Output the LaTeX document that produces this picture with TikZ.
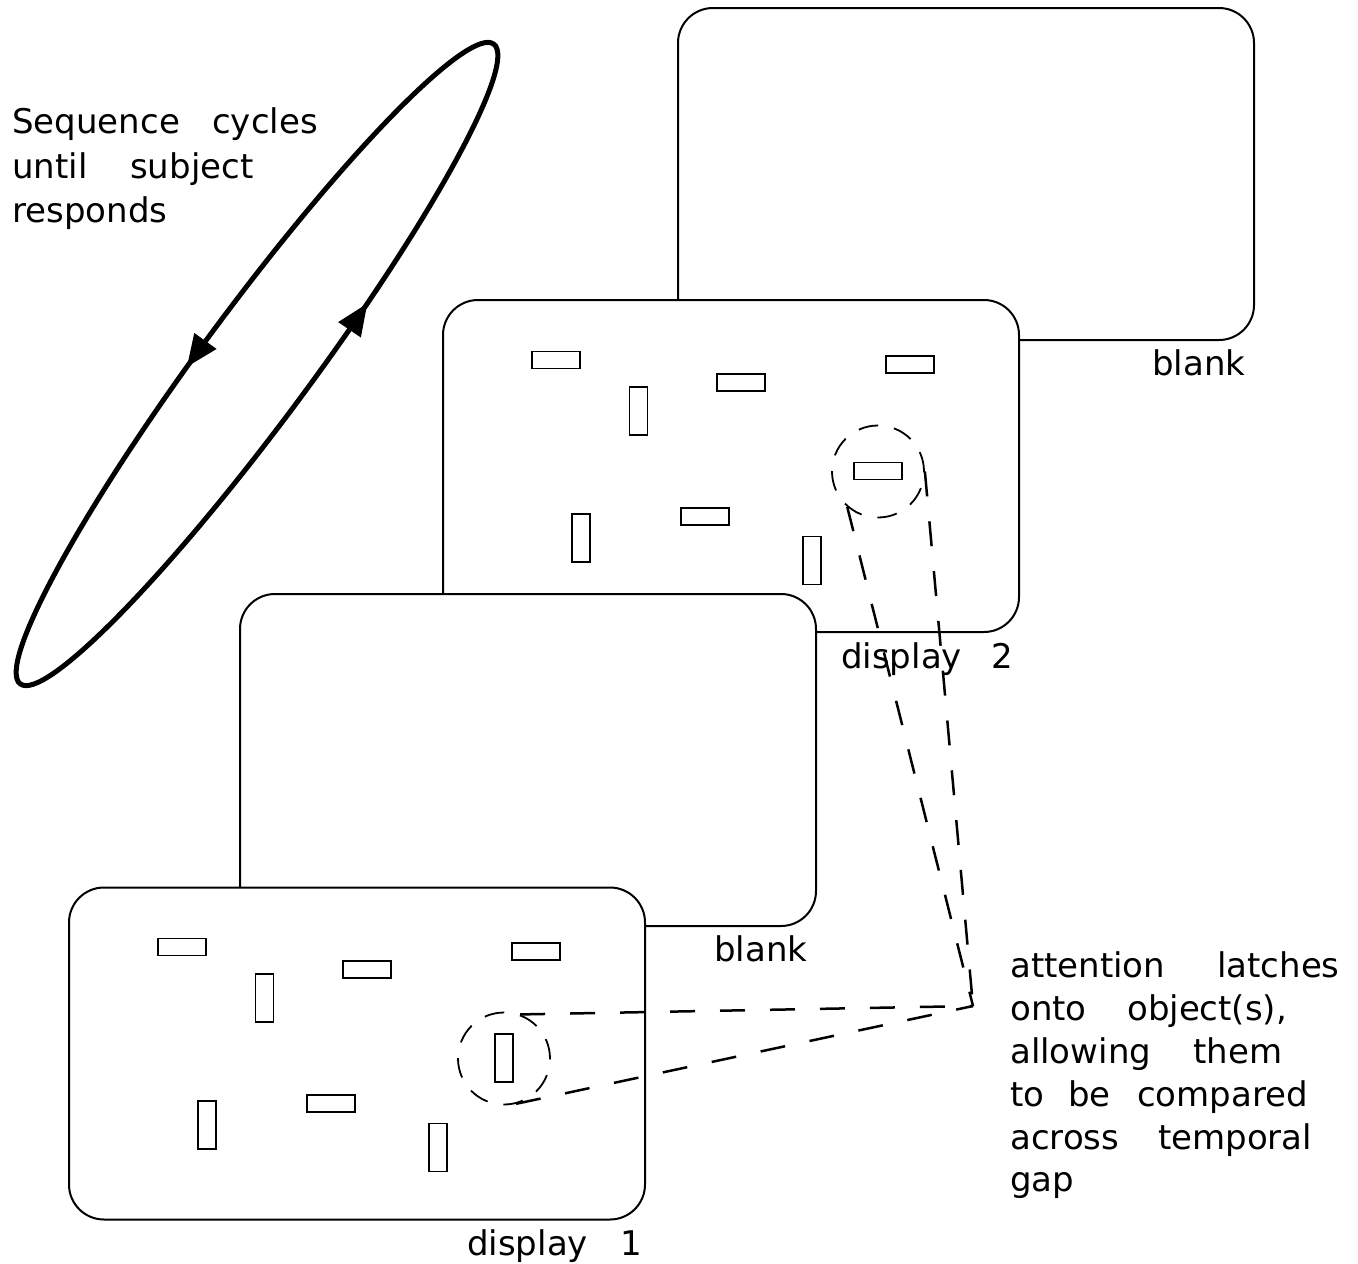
\documentclass[tikz,border=0pt]{standalone}
\usepackage{fontspec}
\newfontfamily\dejavu{DejaVu Sans}
\usetikzlibrary{arrows.meta,decorations.markings}

\tikzset{
  panel/.style={draw, line width=2pt, fill=white, rounded corners=35pt,
    minimum width=576pt, minimum height=332pt, inner sep=0pt},
  hbar/.style={draw, line width=1.8pt, minimum width=48pt, minimum height=17pt, inner sep=0pt},
  vbar/.style={draw, line width=1.8pt, minimum width=18pt, minimum height=48pt, inner sep=0pt},
  focus/.style={circle, draw, line width=1.8pt, dash pattern=on 20pt off 16pt,
    minimum size=92pt, inner sep=0pt},
  link/.style={line width=2.5pt, dash pattern=on 25pt off 25pt},
  words/.style={font=\dejavu\fontsize{34pt}{43pt}\selectfont, anchor=base west, inner sep=0pt},
  cyclepath/.style={line width=5pt, postaction={decorate},
    decoration={markings,
      mark=at position 0.277 with {\arrow{Triangle[length=32pt,width=26pt]}},
      mark=at position 0.82 with {\arrow{Triangle[length=32pt,width=26pt]}}}},
  % the scattered bars of one display, placed from the panel's top-left corner;
  % the argument is the style of the bar inside the attention ring
  bars/.pic={
    \node[hbar] (-a) at (113,60) {};
    \node[hbar] (-b) at (298,82.5) {};
    \node[hbar] (-c) at (467,64.5) {};
    \node[vbar] (-d) at (195.5,111) {};
    \node[hbar] (-e) at (262,216.5) {};
    \node[vbar] (-f) at (138,238) {};
    \node[vbar] (-g) at (369,260.5) {};
    \node[#1] (-t) at (435,171) {};
    \node[focus] (-ring) at (435,171.5) {};
  }
}

\begin{document}
\begin{tikzpicture}[x=1pt, y=-1pt]
\useasboundingbox (0,0) rectangle (1358,1264);

% cycling loop
\draw[cyclepath, rotate around={53.5:(257,364)}] (257,364) ellipse [x radius=398pt, y radius=55pt];
\node[words] (cyc1) at (12,133) {\makebox[200pt][l]{Sequence}cycles};
\node[words] (cyc2) at (12,178) {\makebox[118pt][l]{until}subject};
\node[words] (cyc3) at (12,222) {responds};

% stack of screens, back to front
\node[panel] (blankTop) at (966,174) {};
\node[panel] (disp2) at (731,466) {};
\pic (d2) at (443,300) {bars=hbar};
\node[panel] (blankMid) at (528,760) {};
\node[panel] (disp1) at (357,1053.5) {};
\pic (d1) at (69,887) {bars=vbar};

% attention links
\coordinate (meet) at (973,1006);
\draw[link] (d2-ring.-131) -- (meet);
\draw[link] (d2-ring.0) -- (meet);
\draw[link] (d1-ring.70) -- (meet);
\draw[link] (d1-ring.-75) -- (meet);

% screen labels
\node[words] (lblBlankTop) at (1152,375) {blank};
\node[words] (lblDisp2) at (841,668) {\makebox[150pt][l]{display}2};
\node[words] (lblBlankMid) at (714,961) {blank};
\node[words] (lblDisp1) at (467,1255) {\makebox[153pt][l]{display}1};

% explanation
\node[words] (att1) at (1010,977) {\makebox[207pt][l]{attention}latches};
\node[words] (att2) at (1010,1020) {\makebox[117pt][l]{onto}object(s),};
\node[words] (att3) at (1010,1063) {\makebox[183pt][l]{allowing}them};
\node[words] (att4) at (1010,1106) {\makebox[58pt][l]{to}\makebox[69pt][l]{be}compared};
\node[words] (att5) at (1010,1149) {\makebox[148pt][l]{across}temporal};
\node[words] (att6) at (1010,1191) {gap};
\end{tikzpicture}
\end{document}
